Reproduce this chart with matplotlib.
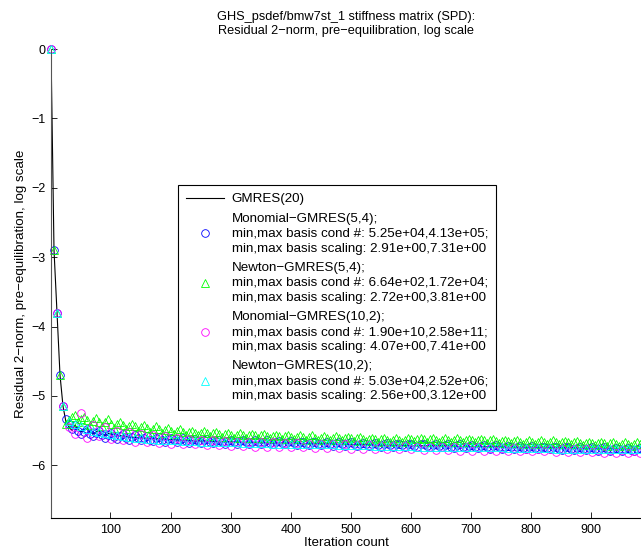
"""Residual history for GHS_psdef/bmw7st_1: GMRES(20) vs s-step GMRES variants."""

import matplotlib

matplotlib.use("Agg")
import matplotlib.pyplot as plt
import numpy as np

plt.rcParams["font.family"] = ["Liberation Sans", "DejaVu Sans"]
plt.rcParams["font.size"] = 9.6

DPI = 100

# Iteration numbers (1-based, as in the original MATLAB run).
ITERS_S5 = np.arange(1, 982, 5)          # markers for the (5,4) runs
ITERS_S10 = np.arange(1, 982, 10)        # markers for the (10,2) runs
ITERS_GMRES = np.concatenate([np.arange(1, 100, 5), np.arange(101, 982, 20)])

# log10 of relative residual 2-norm.
gmres20 = [
    0.00, -2.90, -3.80, -4.70, -5.15, -5.38, -5.45, -5.50, -5.42, -5.48,
    -5.52, -5.49, -5.45, -5.52, -5.55, -5.52, -5.50, -5.55, -5.57, -5.54,
    -5.55, -5.58, -5.60, -5.61, -5.62, -5.63, -5.64, -5.65, -5.65, -5.66,
    -5.66, -5.67, -5.67, -5.68, -5.68, -5.68, -5.69, -5.69, -5.69, -5.70,
    -5.70, -5.70, -5.71, -5.71, -5.71, -5.72, -5.72, -5.72, -5.72, -5.73,
    -5.73, -5.73, -5.73, -5.74, -5.74, -5.74, -5.74, -5.75, -5.75, -5.75,
    -5.75, -5.75, -5.76, -5.76, -5.76,
]

monomial_5_4 = [
    0.00, -2.90, -3.80, -4.70, -5.15, -5.33, -5.40, -5.47, -5.42, -5.50,
    -5.55, -5.52, -5.47, -5.55, -5.58, -5.54, -5.50, -5.57, -5.60, -5.56,
    -5.53, -5.59, -5.62, -5.58, -5.55, -5.60, -5.63, -5.59, -5.56, -5.61,
    -5.64, -5.60, -5.58, -5.63, -5.65, -5.61, -5.59, -5.64, -5.67, -5.62,
    -5.60, -5.64, -5.67, -5.63, -5.61, -5.65, -5.68, -5.64, -5.62, -5.65,
    -5.68, -5.64, -5.62, -5.66, -5.68, -5.65, -5.63, -5.66, -5.69, -5.65,
    -5.63, -5.67, -5.69, -5.65, -5.64, -5.67, -5.69, -5.66, -5.64, -5.67,
    -5.70, -5.66, -5.64, -5.68, -5.70, -5.66, -5.65, -5.68, -5.70, -5.67,
    -5.65, -5.68, -5.71, -5.67, -5.66, -5.69, -5.71, -5.67, -5.66, -5.69,
    -5.71, -5.68, -5.66, -5.69, -5.72, -5.68, -5.67, -5.70, -5.72, -5.68,
    -5.67, -5.70, -5.72, -5.69, -5.68, -5.70, -5.72, -5.69, -5.68, -5.71,
    -5.73, -5.69, -5.68, -5.71, -5.73, -5.70, -5.69, -5.71, -5.73, -5.70,
    -5.69, -5.72, -5.74, -5.70, -5.69, -5.72, -5.74, -5.71, -5.70, -5.72,
    -5.74, -5.71, -5.70, -5.73, -5.75, -5.71, -5.70, -5.73, -5.75, -5.72,
    -5.71, -5.73, -5.75, -5.72, -5.71, -5.74, -5.76, -5.72, -5.71, -5.74,
    -5.76, -5.73, -5.72, -5.74, -5.76, -5.73, -5.72, -5.75, -5.77, -5.73,
    -5.72, -5.75, -5.77, -5.74, -5.73, -5.75, -5.77, -5.74, -5.73, -5.76,
    -5.78, -5.74, -5.73, -5.76, -5.78, -5.75, -5.74, -5.76, -5.78, -5.75,
    -5.74, -5.77, -5.79, -5.75, -5.74, -5.77, -5.79, -5.76, -5.75, -5.77,
    -5.79, -5.76, -5.75, -5.78, -5.80, -5.76, -5.75,
]

newton_5_4 = [
    0.00, -2.90, -3.80, -4.70, -5.15, -5.40, -5.35, -5.30, -5.27, -5.38,
    -5.33, -5.30, -5.35, -5.42, -5.36, -5.32, -5.38, -5.44, -5.38, -5.34,
    -5.40, -5.46, -5.41, -5.37, -5.42, -5.48, -5.43, -5.40, -5.44, -5.50,
    -5.45, -5.42, -5.46, -5.52, -5.47, -5.44, -5.48, -5.53, -5.49, -5.46,
    -5.50, -5.55, -5.51, -5.48, -5.52, -5.56, -5.52, -5.50, -5.53, -5.57,
    -5.53, -5.51, -5.54, -5.58, -5.54, -5.52, -5.55, -5.59, -5.55, -5.53,
    -5.56, -5.60, -5.56, -5.54, -5.57, -5.60, -5.57, -5.55, -5.57, -5.61,
    -5.57, -5.55, -5.58, -5.61, -5.58, -5.56, -5.58, -5.62, -5.58, -5.56,
    -5.59, -5.62, -5.59, -5.57, -5.59, -5.63, -5.59, -5.57, -5.60, -5.63,
    -5.60, -5.58, -5.60, -5.64, -5.60, -5.58, -5.61, -5.64, -5.61, -5.59,
    -5.61, -5.65, -5.61, -5.59, -5.62, -5.65, -5.62, -5.60, -5.62, -5.66,
    -5.62, -5.60, -5.63, -5.66, -5.63, -5.61, -5.63, -5.67, -5.63, -5.61,
    -5.62, -5.65, -5.62, -5.60, -5.62, -5.66, -5.62, -5.60, -5.63, -5.66,
    -5.63, -5.61, -5.63, -5.66, -5.63, -5.61, -5.64, -5.67, -5.64, -5.62,
    -5.64, -5.67, -5.64, -5.62, -5.64, -5.68, -5.64, -5.62, -5.65, -5.68,
    -5.65, -5.63, -5.65, -5.68, -5.65, -5.63, -5.66, -5.69, -5.66, -5.64,
    -5.66, -5.69, -5.66, -5.64, -5.66, -5.70, -5.66, -5.64, -5.67, -5.70,
    -5.67, -5.65, -5.67, -5.70, -5.67, -5.65, -5.68, -5.71, -5.68, -5.66,
    -5.68, -5.71, -5.68, -5.66, -5.68, -5.72, -5.68, -5.66, -5.69, -5.72,
    -5.69, -5.67, -5.69, -5.72, -5.69, -5.67, -5.70,
]

monomial_10_2 = [
    0.00, -3.80, -5.15, -5.45, -5.55, -5.25, -5.60, -5.42, -5.58, -5.45,
    -5.62, -5.50, -5.63, -5.52, -5.66, -5.55, -5.66, -5.57, -5.68, -5.58,
    -5.69, -5.60, -5.70, -5.62, -5.70, -5.63, -5.71, -5.64, -5.71, -5.65,
    -5.72, -5.66, -5.72, -5.66, -5.73, -5.67, -5.73, -5.67, -5.74, -5.68,
    -5.74, -5.68, -5.74, -5.69, -5.75, -5.69, -5.75, -5.70, -5.75, -5.70,
    -5.76, -5.71, -5.76, -5.71, -5.76, -5.72, -5.77, -5.72, -5.77, -5.72,
    -5.77, -5.73, -5.78, -5.73, -5.78, -5.73, -5.78, -5.74, -5.79, -5.74,
    -5.79, -5.74, -5.79, -5.75, -5.79, -5.75, -5.80, -5.75, -5.80, -5.76,
    -5.80, -5.76, -5.80, -5.76, -5.81, -5.77, -5.81, -5.77, -5.81, -5.77,
    -5.81, -5.78, -5.82, -5.78, -5.82, -5.78, -5.82, -5.79, -5.82,
]

newton_10_2 = [
    0.00, -3.80, -5.15, -5.36, -5.40, -5.44, -5.47, -5.50, -5.52, -5.54,
    -5.55, -5.57, -5.58, -5.59, -5.60, -5.61, -5.62, -5.62, -5.63, -5.63,
    -5.64, -5.64, -5.65, -5.65, -5.65, -5.66, -5.66, -5.66, -5.67, -5.67,
    -5.67, -5.67, -5.68, -5.68, -5.68, -5.68, -5.68, -5.69, -5.69, -5.69,
    -5.69, -5.69, -5.70, -5.70, -5.70, -5.70, -5.70, -5.70, -5.71, -5.71,
    -5.71, -5.71, -5.71, -5.71, -5.72, -5.72, -5.72, -5.72, -5.72, -5.72,
    -5.72, -5.73, -5.73, -5.73, -5.73, -5.73, -5.73, -5.73, -5.74, -5.74,
    -5.74, -5.74, -5.74, -5.74, -5.74, -5.74, -5.75, -5.75, -5.75, -5.75,
    -5.75, -5.75, -5.75, -5.75, -5.76, -5.76, -5.76, -5.76, -5.76, -5.76,
    -5.76, -5.76, -5.76, -5.77, -5.77, -5.77, -5.77, -5.77, -5.77,
]

LABELS = [
    "GMRES(20)",
    "Monomial\u2212GMRES(5,4);\nmin,max basis cond #: 5.25e+04,4.13e+05;\n"
    "min,max basis scaling: 2.91e+00,7.31e+00",
    "Newton\u2212GMRES(5,4);\nmin,max basis cond #: 6.64e+02,1.72e+04;\n"
    "min,max basis scaling: 2.72e+00,3.81e+00",
    "Monomial\u2212GMRES(10,2);\nmin,max basis cond #: 1.90e+10,2.58e+11;\n"
    "min,max basis scaling: 4.07e+00,7.41e+00",
    "Newton\u2212GMRES(10,2);\nmin,max basis cond #: 5.03e+04,2.52e+06;\n"
    "min,max basis scaling: 2.56e+00,3.12e+00",
]


def main() -> None:
    fig = plt.figure(figsize=(6.41, 5.52), dpi=DPI)
    ax = fig.add_axes((51 / 641, 34 / 552, 590 / 641, 469 / 552))

    ax.plot(ITERS_GMRES, gmres20, color="black", linewidth=0.8, label=LABELS[0])
    marker_kw = dict(linestyle="none", markerfacecolor="none", markersize=5.5,
                     markeredgewidth=0.6, clip_on=False)
    ax.plot(ITERS_S5, monomial_5_4, marker="o", markeredgecolor="#0000ff",
            label=LABELS[1], **marker_kw)
    ax.plot(ITERS_S5, newton_5_4, marker="^", markeredgecolor="#00ff00",
            label=LABELS[2], **marker_kw)
    ax.plot(ITERS_S10, monomial_10_2, marker="o", markeredgecolor="#ff00ff",
            label=LABELS[3], **marker_kw)
    ax.plot(ITERS_S10, newton_10_2, marker="^", markeredgecolor="#00ffff",
            label=LABELS[4], **marker_kw)

    ax.set_xlim(1, 983)
    ax.set_ylim(-6.76, 0)
    ax.set_xticks(range(100, 901, 100))
    ax.set_yticks(range(-6, 1))

    for side in ("top", "right"):
        ax.spines[side].set_visible(False)
    ax.spines["left"].set_color("#555555")
    ax.tick_params(direction="in", length=4, width=0.6, pad=4, labelsize=9)

    ax.set_xlabel("Iteration count", labelpad=1)
    ax.set_ylabel("Residual 2\u2212norm, pre\u2212equilibration, log scale", labelpad=3)
    ax.set_title("GHS_psdef/bmw7st_1 stiffness matrix (SPD):\n"
                 "Residual 2\u2212norm, pre\u2212equilibration, log scale",
                 fontsize=9.2, pad=11, linespacing=1.15)

    leg = ax.legend(loc="upper left", bbox_to_anchor=(0.215, 0.71), borderaxespad=0,
                    fancybox=False, framealpha=1, edgecolor="black", fontsize=9.6,
                    handlelength=2.85, handletextpad=0.6, labelspacing=0.55,
                    borderpad=0.6, handleheight=0.7)
    for text in leg.get_texts():
        text.set_linespacing(1.33)
    leg.get_frame().set_linewidth(0.8)

    fig.savefig("out.png", dpi=DPI)
    plt.close(fig)


if __name__ == "__main__":
    main()
